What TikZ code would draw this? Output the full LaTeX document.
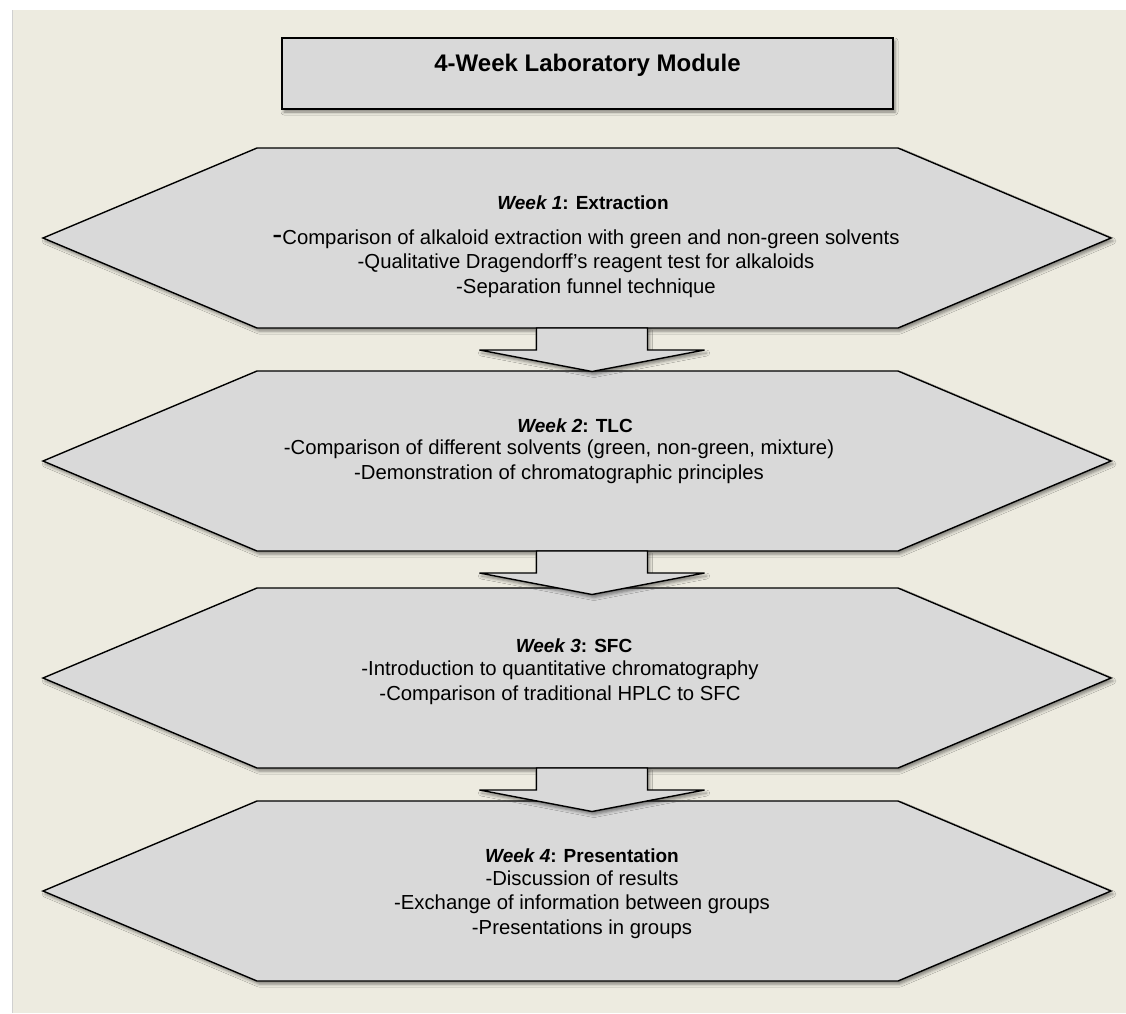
\documentclass[tikz,border=0pt]{standalone}
\usepackage{fontspec}
\setmainfont{Liberation Sans}
\usetikzlibrary{shadows.blur}

\definecolor{panel}{RGB}{237,235,224}
\definecolor{boxgrey}{RGB}{217,217,217}
\definecolor{edgegrey}{RGB}{208,208,208}

\tikzset{
  blockshape/.style={draw=black, line width=1.4pt, fill=boxgrey, line join=miter,
    blur shadow={shadow xshift=2pt, shadow yshift=-3pt, shadow blur radius=3pt, shadow opacity=45}},
  titlebox/.style={blockshape, minimum width=611pt, inner xsep=0pt, inner ysep=0pt,
    text height=33.7pt, text depth=37.3pt, font=\fontsize{24}{28}\selectfont\bfseries},
  weektitle/.style={anchor=base, inner sep=0pt, font=\fontsize{19}{23}\selectfont\bfseries},
  weekbody/.style={anchor=base, inner sep=0pt, align=center, font=\fontsize{20.3}{24.5}\selectfont},
}

\newcommand{\weekhex}[2]{%
  \coordinate (#1) at (577,#2);
  \coordinate (#1top) at (592,#2-90);
  \coordinate (#1bot) at (592,#2+90);
  \draw[blockshape] (43,#2) -- (257,#2-90) -- (898,#2-90) -- (1111,#2)
    -- (898,#2+90) -- (257,#2+90) -- cycle;
}
\newcommand{\weekarrow}[1]{%
  \draw[blockshape] (#1) ++(-55.5,0) -- ++(0,22) -- ++(-57,0) -- ++(112.5,21.5)
    -- ++(112.5,-21.5) -- ++(-57,0) -- ++(0,-22) -- cycle;
}

\begin{document}
\begin{tikzpicture}[x=1pt,y=-1pt]
\useasboundingbox (0,0) rectangle (1126,1013);
\fill[white] (0,0) rectangle (1126,1013);
\fill[panel] (12,10) rectangle (1126,1013);
\draw[edgegrey, line width=1.5pt] (12.5,10) -- (12.5,1013);

\node[titlebox] (title) at (587.5,73.5) {4-Week Laboratory Module};

\weekhex{h1}{238}
\weekhex{h2}{461}
\weekhex{h3}{678}
\weekhex{h4}{891}

\weekarrow{h1bot}
\weekarrow{h2bot}
\weekarrow{h3bot}

\node[weektitle] (w1title) at (583,209) {\textit{Week 1}: Extraction};
\node[weekbody] (w1body) at (586,293) {{\fontsize{30}{24.5}\selectfont -}Comparison of alkaloid extraction with green and non-green solvents\\
  -Qualitative Dragendorff's reagent test for alkaloids\\
  -Separation funnel technique};

\node[weektitle] (w2title) at (575,432) {\textit{Week 2}: TLC};
\node[weekbody] (w2body) at (559,479) {-Comparison of different solvents (green, non-green, mixture)\\
  -Demonstration of chromatographic principles};

\node[weektitle] (w3title) at (574,652) {\textit{Week 3}: SFC};
\node[weekbody] (w3body) at (560,700) {-Introduction to quantitative chromatography\\
  -Comparison of traditional HPLC to SFC};

\node[weektitle] (w4title) at (582,862) {\textit{Week 4}: Presentation};
\node[weekbody] (w4body) at (582,934) {-Discussion of results\\
  -Exchange of information between groups\\
  -Presentations in groups};
\end{tikzpicture}
\end{document}
